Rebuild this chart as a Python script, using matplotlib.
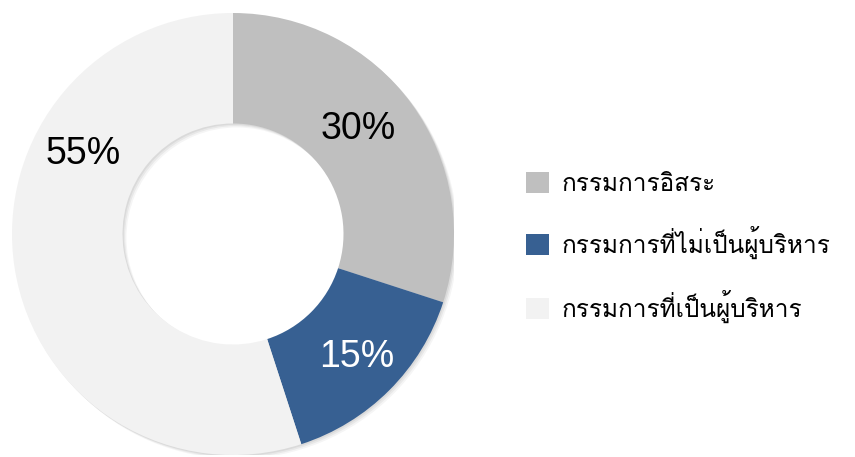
import matplotlib
matplotlib.use('Agg')
import matplotlib.pyplot as plt
from matplotlib import font_manager
from matplotlib.ft2font import FT2Font
from matplotlib.patches import Wedge, Patch
import numpy as np

# data
labels = ['กรรมการอิสระ', 'กรรมการที่ไม่เป็นผู้บริหาร', 'กรรมการที่เป็นผู้บริหาร']
values = [30, 15, 55]
colors = ['#BFBFBF', '#376092', '#F2F2F2']
pct_colors = ['black', 'white', 'black']
label_angles = [40, -45, 152]   # where the % text sits (degrees)
label_r = [0.74, 0.79, 0.77]


def find_thai_font():
    for f in font_manager.fontManager.ttflist:
        try:
            cmap = FT2Font(f.fname).get_charmap()
        except Exception:
            continue
        if 0x0E01 in cmap:
            return f.name
    return None


thai = find_thai_font()
fams = ['DejaVu Sans']
if thai:
    fams = [thai, 'DejaVu Sans']

fig = plt.figure(figsize=(8.55, 4.57), dpi=100)
R = 221
cx, cy = 233, 457 - 234
ax = fig.add_axes([(cx - R) / 855, (cy - R) / 457, 2 * R / 855, 2 * R / 457])

# faint shadow ring
for i, a in enumerate([0.06, 0.05, 0.04]):
    off = 0.006 * (i + 1)
    ax.add_patch(Wedge((off, -off), 1.0, 0, 360, width=0.5, color='black',
                       alpha=a, lw=0))

wedges, _ = ax.pie(values, colors=colors, startangle=90, counterclock=False,
                   radius=1.0, wedgeprops=dict(width=0.5, linewidth=0),
                   frame=True)
ax.set_xlim(-1, 1)
ax.set_ylim(-1, 1)
ax.set_aspect('equal')
ax.axis('off')

for v, ang, r, c in zip(values, label_angles, label_r, pct_colors):
    t = np.deg2rad(ang)
    ax.text(r * np.cos(t), r * np.sin(t), f'{v}%', ha='center', va='center',
            fontsize=27, color=c, family=['Liberation Sans', 'DejaVu Sans'])

handles = [Patch(facecolor=c, edgecolor='none') for c in colors]
fig.legend(handles, labels, loc='center left', bbox_to_anchor=(0.604, 0.459),
           frameon=False, prop={'family': fams, 'size': 17.5},
           handlelength=0.95, handleheight=0.95, handletextpad=0.5,
           labelspacing=1.25, borderaxespad=0)

fig.savefig('out.png', dpi=100, facecolor='white')
